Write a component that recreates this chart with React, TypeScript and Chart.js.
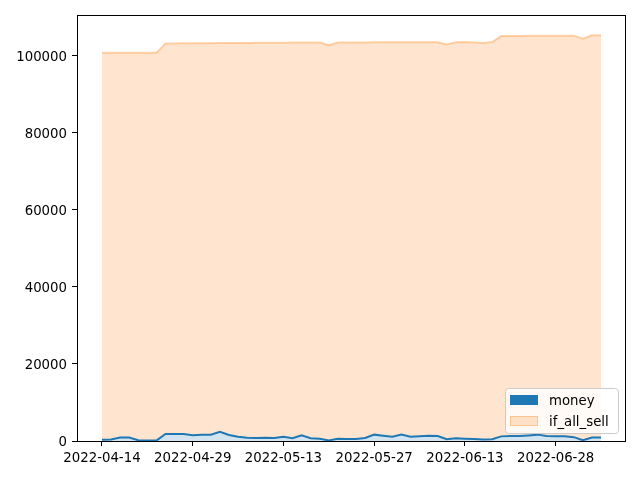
import React, { useEffect, useRef } from "react";
import { Chart, registerables } from "chart.js";

Chart.register(...registerables);

const dates = [
  "2022-04-14", "2022-04-18", "2022-04-19", "2022-04-20", "2022-04-21", "2022-04-22",
  "2022-04-25", "2022-04-26", "2022-04-27", "2022-04-28", "2022-04-29",
  "2022-05-02", "2022-05-03", "2022-05-04", "2022-05-05", "2022-05-06",
  "2022-05-09", "2022-05-10", "2022-05-11", "2022-05-12", "2022-05-13",
  "2022-05-16", "2022-05-17", "2022-05-18", "2022-05-19", "2022-05-20",
  "2022-05-23", "2022-05-24", "2022-05-25", "2022-05-26", "2022-05-27",
  "2022-05-31", "2022-06-01", "2022-06-02", "2022-06-03",
  "2022-06-06", "2022-06-07", "2022-06-08", "2022-06-09", "2022-06-10",
  "2022-06-13", "2022-06-14", "2022-06-15", "2022-06-16", "2022-06-17",
  "2022-06-21", "2022-06-22", "2022-06-23", "2022-06-24",
  "2022-06-27", "2022-06-28", "2022-06-29", "2022-06-30", "2022-07-01",
  "2022-07-05", "2022-07-06",
];

const money = [
  300, 400, 900, 900, 200, 100, 100,
  1800, 1800, 1800, 1500, 1600, 1650, 2400,
  1550, 1100, 850, 780, 850, 780, 1100,
  700, 1450, 700, 600, 150, 600, 500,
  500, 780, 1650, 1350, 1100, 1650, 1100,
  1200, 1350, 1300, 450, 700, 600, 500,
  400, 450, 1200, 1300, 1300, 1450, 1650,
  1300, 1200, 1200, 1000, 200, 900, 900,
];

// top of the stacked "if_all_sell" area
const ifAllSell = [
  100600, 100600, 100600, 100600, 100600, 100600, 100600,
  103030, 103050, 103060, 103080, 103100, 103110, 103130, 103150, 103160,
  103180, 103200, 103210, 103230, 103240, 103260, 103270, 103280, 103290,
  102600,
  103300, 103300, 103310, 103310, 103320, 103320, 103330, 103330, 103340,
  103340, 103350, 103350,
  102750,
  103350, 103400, 103300, 103150, 103400,
  104950, 104970, 104980, 105000, 105000, 105020, 105030, 105040, 105050,
  104250,
  105150, 105150,
];

const xTickIndices = [0, 10, 20, 30, 40, 50];
const yTickValues = [0, 20000, 40000, 60000, 80000, 100000];
const legendLabels = ["money", "if_all_sell"];

const FONT = "'DejaVu Sans', sans-serif";

const framePlugin = {
  id: "mplFrame",
  afterDraw(chart: any) {
    const { ctx, chartArea } = chart;
    ctx.save();
    ctx.strokeStyle = "#000";
    ctx.lineWidth = 1;
    ctx.strokeRect(
      Math.round(chartArea.left) + 0.5,
      Math.round(chartArea.top) + 0.5,
      Math.round(chartArea.right - chartArea.left) - 1,
      Math.round(chartArea.bottom - chartArea.top)
    );
    ctx.restore();
  },
};

const legendPlugin = {
  id: "mplLegend",
  afterDraw(chart: any) {
    const { ctx, chartArea } = chart;
    const w = 113;
    const h = 45;
    const x = chartArea.right - 8 - w;
    const y = chartArea.bottom - 8 - h;
    ctx.save();
    ctx.beginPath();
    (ctx as any).roundRect(x + 0.5, y + 0.5, w, h, 3);
    ctx.fillStyle = "rgba(255,255,255,0.8)";
    ctx.fill();
    ctx.strokeStyle = "#cccccc";
    ctx.lineWidth = 1;
    ctx.stroke();
    const fills = ["#1f77b4", "rgba(255,127,14,0.2)"];
    const edges = ["#1f77b4", "rgba(255,127,14,0.3)"];
    ctx.font = `13.3px ${FONT}`;
    ctx.textBaseline = "middle";
    ctx.textAlign = "left";
    legendLabels.forEach((lab, i) => {
      const py = y + 7 + i * 21;
      ctx.fillStyle = fills[i];
      ctx.fillRect(x + 5, py, 28, 10);
      ctx.strokeStyle = edges[i];
      ctx.lineWidth = 1;
      ctx.strokeRect(x + 5.5, py + 0.5, 27, 9);
      ctx.fillStyle = "#000";
      ctx.fillText(lab, x + 44, py + 7);
    });
    ctx.restore();
  },
};

export default function App() {
  const ref = useRef<HTMLCanvasElement>(null);

  useEffect(() => {
    if (!ref.current) return;
    const n = dates.length;
    const margin = (n - 1) * 0.05;
    const yMax = Math.max(...ifAllSell) * 1.05;
    const chart = new Chart(ref.current, {
      type: "line",
      data: {
        datasets: [
          {
            label: "money",
            data: money.map((v, i) => ({ x: i, y: v })),
            borderColor: "#1f77b4",
            backgroundColor: "rgba(31,119,180,0.2)",
            borderWidth: 2,
            pointRadius: 0,
            fill: "origin",
            tension: 0,
          },
          {
            label: "if_all_sell",
            data: ifAllSell.map((v, i) => ({ x: i, y: v })),
            borderColor: "rgba(255,127,14,0.33)",
            backgroundColor: "rgba(255,127,14,0.2)",
            borderWidth: 2,
            pointRadius: 0,
            fill: "-1",
            tension: 0,
          },
        ],
      },
      options: {
        animation: false,
        responsive: false,
        devicePixelRatio: 1,
        layout: { padding: { top: 15, right: 14, left: 0, bottom: 0 } },
        plugins: {
          legend: { display: false },
          tooltip: { enabled: false },
        },
        scales: {
          x: {
            type: "linear",
            min: -margin,
            max: n - 1 + margin,
            afterFit(s: any) {
              s.height = 39;
            },
            afterBuildTicks(s: any) {
              s.ticks = xTickIndices.map((v) => ({ value: v }));
            },
            border: { display: false },
            grid: {
              display: true,
              drawOnChartArea: false,
              drawTicks: true,
              tickLength: 5,
              color: "#000",
              tickColor: "#000",
            },
            ticks: {
              autoSkip: false,
              maxRotation: 0,
              padding: 5,
              color: "#000",
              font: { family: FONT, size: 13.3 },
              callback: (v: any) => dates[Math.round(Number(v))] ?? "",
            },
          },
          y: {
            type: "linear",
            min: 0,
            max: yMax,
            afterFit(s: any) {
              s.width = 77;
            },
            afterBuildTicks(s: any) {
              s.ticks = yTickValues.map((v) => ({ value: v }));
            },
            border: { display: false },
            grid: {
              display: true,
              drawOnChartArea: false,
              drawTicks: true,
              tickLength: 5,
              color: "#000",
              tickColor: "#000",
            },
            ticks: {
              padding: 5,
              labelOffset: 2,
              color: "#000",
              font: { family: FONT, size: 13.3 },
              callback: (v: any) => String(v),
            },
          },
        },
      },
      plugins: [framePlugin, legendPlugin],
    });
    return () => chart.destroy();
  }, []);

  return (
    <div style={{ position: "fixed", left: 0, top: 0, width: 640, height: 480, background: "#fff" }}>
      <canvas ref={ref} width={640} height={480} />
    </div>
  );
}
